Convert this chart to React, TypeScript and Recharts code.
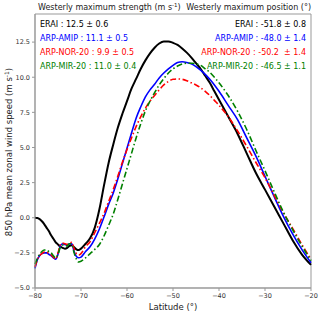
import { LineChart, Line, XAxis, YAxis, ReferenceArea } from 'recharts';

// latitude grid (deg)
const latitude = [
  -80, -79.5, -79, -78.5, -78, -77.5, -77, -76.5, -76, -75.5, -75, -74.5, -74, -73.5, -73, -72.5, -72, -71.5, -71, -70.5, -70,
  -69, -68, -67, -66, -65, -64, -63, -62, -61, -60, -59, -58, -57, -56, -55, -54, -53, -52, -51, -50, -49, -48, -47, -46, -45, -44, -43, -42, -41,
  -40, -38, -36, -34, -32, -30, -28, -26, -24, -22, -20,
];

const erai = [
  0.0, -0.02, -0.1, -0.25, -0.45, -0.7, -0.95, -1.25, -1.5, -1.75, -1.9, -2.05, -2.15, -2.2, -2.15, -2.0, -1.95, -2.1, -2.25, -2.3, -2.2,
  -1.85, -1.45, -0.7, 0.6, 2.3, 3.9, 5.2, 6.4, 7.4, 8.3, 9.2, 9.9, 10.6, 11.2, 11.7, 12.1, 12.4, 12.55, 12.55, 12.45, 12.3, 12.05, 11.75, 11.4, 11.0, 10.6, 10.1, 9.6, 9.0,
  8.4, 7.2, 6.0, 4.6, 3.2, 2.0, 0.8, -0.4, -1.6, -2.6, -3.35,
];

const arpAmip = [
  -3.6, -3.0, -2.7, -2.55, -2.5, -2.5, -2.6, -2.7, -2.85, -2.95, -2.6, -2.0, -1.85, -1.9, -1.95, -1.85, -1.85, -2.4, -2.75, -2.85, -2.8,
  -2.4, -2.05, -1.5, -0.8, 0.05, 0.95, 1.75, 2.75, 3.85, 4.95, 6.05, 7.1, 7.9, 8.6, 9.1, 9.5, 9.95, 10.3, 10.6, 10.85, 11.05, 11.1, 11.05, 10.95, 10.75, 10.5, 10.2, 9.85, 9.45,
  9.0, 8.0, 7.0, 5.7, 4.4, 2.95, 1.5, 0.1, -1.15, -2.25, -3.2,
];

const arpNor20 = [
  -3.5, -3.0, -2.7, -2.55, -2.45, -2.45, -2.55, -2.65, -2.8, -2.95, -2.5, -1.95, -1.8, -1.85, -1.9, -1.8, -1.75, -2.2, -2.55, -2.65, -2.55,
  -2.05, -1.7, -1.05, -0.4, 0.3, 1.15, 2.0, 2.95, 3.95, 4.85, 5.7, 6.5, 7.2, 7.8, 8.3, 8.7, 9.1, 9.45, 9.7, 9.85, 9.88, 9.85, 9.75, 9.6, 9.45, 9.25, 9.0, 8.7, 8.35,
  8.0, 7.2, 6.2, 5.1, 3.95, 2.85, 1.6, 0.35, -0.75, -1.9, -2.95,
];

const arpMir20 = [
  -3.3, -2.9, -2.6, -2.4, -2.3, -2.3, -2.4, -2.5, -2.7, -2.85, -2.6, -2.1, -1.95, -2.0, -2.0, -1.85, -1.9, -2.5, -2.95, -3.15, -3.1,
  -2.85, -2.55, -2.25, -1.9, -1.3, -0.55, 0.25, 1.3, 2.4, 3.5, 4.6, 5.7, 6.7, 7.6, 8.3, 8.9, 9.45, 9.9, 10.3, 10.6, 10.8, 10.95, 11.0, 11.0, 10.95, 10.85, 10.6, 10.35, 10.0,
  9.6, 8.7, 7.6, 6.3, 4.8, 3.35, 1.85, 0.4, -0.85, -2.0, -3.05,
];

const xTicks = [-80, -70, -60, -50, -40, -30, -20];
const yTicks = [-5, -2.5, 0, 2.5, 5, 7.5, 10, 12.5];

const strengthLabels = [
  { text: 'ERAI : 12.5 ± 0.6', color: '#000000' },
  { text: 'ARP-AMIP : 11.1 ± 0.5', color: '#0000ff' },
  { text: 'ARP-NOR-20 : 9.9 ± 0.5', color: '#ff0000' },
  { text: 'ARP-MIR-20 : 11.0 ± 0.4', color: '#008000' },
];
const positionLabels = [
  { text: 'ERAI : -51.8 ± 0.8', color: '#000000' },
  { text: 'ARP-AMIP : -48.0 ± 1.4', color: '#0000ff' },
  { text: 'ARP-NOR-20 : -50.2  ± 1.4', color: '#ff0000' },
  { text: 'ARP-MIR-20 : -46.5 ± 1.1', color: '#008000' },
];

const data = latitude.map((lat, i) => ({
  lat,
  erai: erai[i],
  amip: arpAmip[i],
  nor: arpNor20[i],
  mir: arpMir20[i],
}));

const FONT = 'DejaVu Sans, sans-serif';
const minus = (s: string) => s.replace('-', '\u2212');

export default function App() {
  return (
    <div style={{ position: 'absolute', left: 0, top: 0, width: 320, height: 315, background: '#fff', fontFamily: FONT }}>
      <LineChart width={320} height={315} data={data} margin={{ top: 14, right: 9, bottom: 7, left: 8 }}>
        <XAxis
          dataKey="lat"
          type="number"
          domain={[-80, -20]}
          ticks={xTicks}
          height={20}
          tickSize={3}
          stroke="#999"
          tick={{ fill: '#333', fontSize: 6.5, fontFamily: FONT }}
          tickFormatter={(v) => minus(String(v))}
        />
        <YAxis
          type="number"
          domain={[-5, 14.5]}
          ticks={yTicks}
          width={27}
          tickSize={3}
          stroke="#999"
          tick={{ fill: '#333', fontSize: 6.5, fontFamily: FONT }}
          tickFormatter={(v) => minus(Number(v).toFixed(1))}
        />
        <ReferenceArea x1={-80} x2={-20} y1={-5} y2={14.5} fill="none" stroke="#999" strokeWidth={1} />
        <Line type="monotone" dataKey="erai" stroke="#000" strokeWidth={2} dot={false} isAnimationActive={false} />
        <Line type="monotone" dataKey="amip" stroke="#0000ff" strokeWidth={1.6} dot={false} isAnimationActive={false} />
        <Line type="monotone" dataKey="nor" stroke="#ff0000" strokeWidth={1.6} strokeDasharray="6 2.5 1.5 2.5" dot={false} isAnimationActive={false} />
        <Line type="monotone" dataKey="mir" stroke="#008000" strokeWidth={1.6} strokeDasharray="6 2.5 1.5 2.5" dot={false} isAnimationActive={false} />
      </LineChart>
      <svg width={320} height={315} style={{ position: 'absolute', left: 0, top: 0, pointerEvents: 'none' }} fontFamily={FONT}>
        <text x={38} y={10} fontSize={8} fill="#222">
          Westerly maximum strength (m s<tspan fontSize={5.5} dy={-3}>-1</tspan><tspan dy={3}>)</tspan>
        </text>
        <text x={311} y={10} fontSize={8} fill="#222" textAnchor="end">
          Westerly maximum position (°)
        </text>
        {strengthLabels.map((l, i) => (
          <text key={l.text} x={40} y={27 + i * 14} fontSize={8} fill={l.color}>{l.text}</text>
        ))}
        {positionLabels.map((l, i) => (
          <text key={l.text} x={306} y={27 + i * 14} fontSize={8} fill={l.color} textAnchor="end" style={{ whiteSpace: 'pre' }}>{l.text}</text>
        ))}
        <text transform="translate(12,152) rotate(-90)" fontSize={8.5} fill="#222" textAnchor="middle">
          850 hPa mean zonal wind speed (m s<tspan fontSize={6} dy={-3}>-1</tspan><tspan dy={3}>)</tspan>
        </text>
        <text x={173} y={310} fontSize={8.5} fill="#222" textAnchor="middle">Latitude (°)</text>
      </svg>
    </div>
  );
}
